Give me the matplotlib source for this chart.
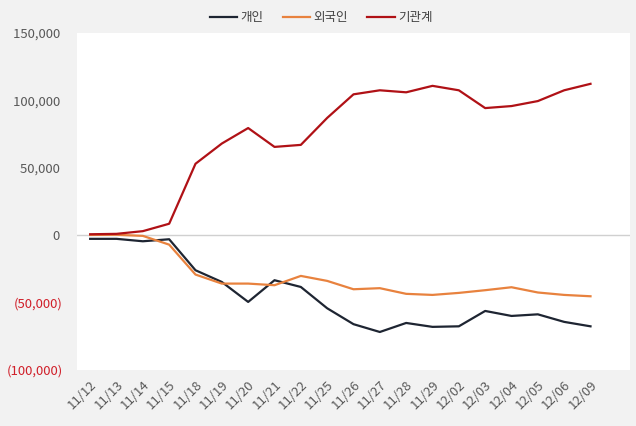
import matplotlib.pyplot as plt

plt.rcParams['font.family'] = ['Noto Sans CJK KR', 'DejaVu Sans']

dates = ['11/12', '11/13', '11/14', '11/15', '11/18', '11/19', '11/20', '11/21',
         '11/22', '11/25', '11/26', '11/27', '11/28', '11/29', '12/02', '12/03',
         '12/04', '12/05', '12/06', '12/09']

individual = [-2700, -2700, -4500, -3000, -26000, -34700, -49500, -33400,
              -38400, -54200, -66000, -71800, -65100, -68000, -67600, -56200,
              -59900, -58700, -64300, -67600]
foreign = [200, 300, -500, -7000, -29200, -35900, -35900, -37100,
           -30200, -33900, -40100, -39300, -43500, -44300, -42800, -40800,
           -38600, -42500, -44300, -45300]
institution = [700, 1000, 3000, 8500, 53000, 68000, 79500, 65500,
               67000, 87000, 104500, 107500, 106000, 110800, 107500, 94300,
               95800, 99500, 107500, 112300]

labels = ['개인', '외국인', '기관계']
colors = ['#1e2532', '#e8823e', '#b01116']
yticks = [-100000, -50000, 0, 50000, 100000, 150000]


def fmt(v):
    # excel style: negatives in parentheses, positives padded for the ")"
    if v < 0:
        return '({:,})'.format(-v)
    return '{:,} '.format(v)


fig = plt.figure(figsize=(6.36, 4.26), dpi=100, facecolor='#f2f2f2')
ax = fig.add_axes([77 / 636, 1 - 370 / 426, 553 / 636, 337 / 426])
ax.set_facecolor('white')

x = range(len(dates))
for series, lab, col in zip([individual, foreign, institution], labels, colors):
    ax.plot(x, series, color=col, lw=1.6, label=lab, zorder=3)

ax.axhline(0, color='#d0d0d0', lw=1, zorder=1)

ax.set_ylim(-100000, 150000)
ax.set_xlim(-0.5, 20.5)
ax.set_yticks(yticks)
ax.set_yticklabels([fmt(v) for v in yticks])
for t, v in zip(ax.get_yticklabels(), yticks):
    t.set_color('#d0202a' if v < 0 else '#595959')
ax.set_xticks(list(x))
ax.set_xticklabels(dates, rotation=45, ha='right', rotation_mode='anchor', color='#595959')
ax.tick_params(axis='both', length=0, labelsize=9.5)
ax.tick_params(axis='y', pad=10)
ax.tick_params(axis='x', pad=6)
for s in ax.spines.values():
    s.set_visible(False)

fig.legend(loc='center', bbox_to_anchor=(0.505, 0.958), ncol=3, frameon=False,
           fontsize=9, handlelength=2.2, handletextpad=0.3, columnspacing=1.5,
           labelcolor='#404040')

fig.savefig('out.png', dpi=100, facecolor=fig.get_facecolor())
